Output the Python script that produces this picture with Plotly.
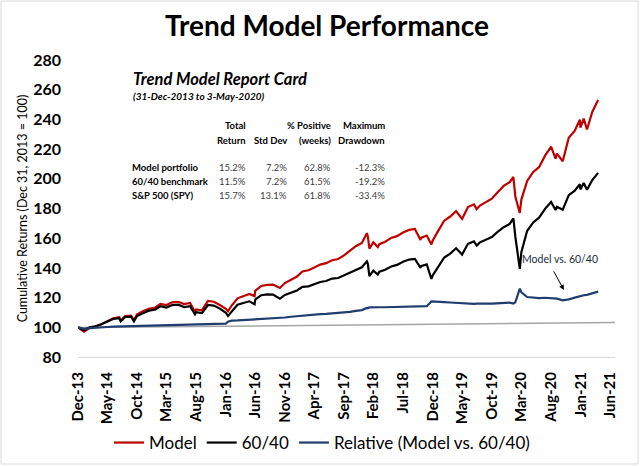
import plotly.graph_objects as go

# weekly-ish readings taken off the chart (index Dec 31, 2013 = 100)
dates = [
    "2013-12-31", "2014-01-31", "2014-02-28", "2014-03-31", "2014-04-30", "2014-05-31",
    "2014-06-30", "2014-07-31", "2014-08-08", "2014-08-31", "2014-09-30", "2014-10-15",
    "2014-10-31", "2014-11-30", "2014-12-31", "2015-01-31", "2015-02-28", "2015-03-31",
    "2015-04-30", "2015-05-31", "2015-06-30", "2015-07-31", "2015-08-25", "2015-08-31",
    "2015-09-30", "2015-10-31", "2015-11-30", "2015-12-31", "2016-01-31", "2016-02-11",
    "2016-02-29", "2016-03-31", "2016-04-30", "2016-05-31", "2016-06-27", "2016-06-30",
    "2016-07-31", "2016-08-31", "2016-09-30", "2016-10-31", "2016-11-04", "2016-11-30",
    "2016-12-31", "2017-01-31", "2017-02-28", "2017-03-31", "2017-04-30", "2017-05-31",
    "2017-06-30", "2017-07-31", "2017-08-31", "2017-09-30", "2017-10-31", "2017-11-30",
    "2017-12-31", "2018-01-26", "2018-01-31", "2018-02-08", "2018-02-28", "2018-03-23",
    "2018-03-31", "2018-04-30", "2018-05-31", "2018-06-30", "2018-07-31", "2018-08-31",
    "2018-09-30", "2018-10-29", "2018-10-31", "2018-11-30", "2018-12-24", "2018-12-31",
    "2019-01-31", "2019-02-28", "2019-03-31", "2019-04-30", "2019-05-31", "2019-06-30",
    "2019-07-31", "2019-08-14", "2019-08-31", "2019-09-30", "2019-10-31", "2019-11-30",
    "2019-12-31", "2020-01-31", "2020-02-19", "2020-02-29", "2020-03-23", "2020-03-31",
    "2020-04-30", "2020-05-31", "2020-06-30", "2020-07-31", "2020-08-31", "2020-09-23",
    "2020-09-30", "2020-10-30", "2020-11-30", "2020-12-31", "2021-01-26", "2021-01-29",
    "2021-02-15", "2021-03-04", "2021-03-31", "2021-04-30",
]

model = [
    100.0, 97.0, 99.5, 100.5, 102.0, 104.0,
    106.0, 106.8, 104.5, 107.5, 107.8, 104.8,
    108.8, 110.8, 112.5, 113.2, 115.8, 115.0,
    116.8, 117.2, 115.6, 116.4, 110.3, 112.0,
    111.5, 117.8, 117.2, 115.0, 112.5, 110.8,
    114.5, 119.5, 121.0, 122.5, 121.0, 124.5,
    127.8, 128.6, 128.8, 127.0, 126.5, 129.8,
    132.0, 134.2, 137.6, 138.4, 140.2, 142.2,
    143.2, 145.2, 146.0, 148.4, 151.6, 154.6,
    156.8, 163.4, 161.0, 153.0, 157.2, 154.0,
    156.0, 157.6, 160.2, 161.4, 163.8, 165.6,
    166.2, 158.8, 160.2, 161.8, 155.8, 158.4,
    165.6, 171.8, 174.6, 178.2, 173.0, 181.0,
    182.8, 179.6, 182.0, 184.0, 186.6, 191.0,
    195.2, 197.8, 201.2, 188.0, 177.0, 186.0,
    198.6, 204.6, 207.8, 215.6, 221.6, 213.6,
    217.0, 211.8, 227.6, 232.4, 239.8, 234.4,
    240.5, 233.2, 245.0, 253.0,
]

bench_60_40 = [
    100.0, 98.0, 100.0, 100.6, 102.0, 103.8,
    105.6, 106.2, 104.0, 107.0, 107.2, 104.0,
    107.6, 109.5, 111.2, 111.8, 114.2, 113.3,
    115.0, 115.2, 113.6, 114.2, 108.8, 110.2,
    109.6, 115.0, 114.6, 112.6, 109.8, 107.6,
    110.5, 115.2, 116.4, 117.5, 115.5, 118.6,
    121.6, 122.2, 122.0, 120.0, 119.2, 121.8,
    123.2, 124.8, 127.2, 127.6, 129.0, 130.5,
    131.2, 132.8, 133.2, 135.0, 137.2, 139.0,
    140.4, 144.4, 142.6, 134.4, 138.2, 135.5,
    137.4, 138.8, 141.0, 142.0, 144.2, 145.6,
    146.0, 140.0, 141.2, 142.4, 132.6, 135.0,
    141.4, 147.0, 149.6, 153.2, 149.0, 156.2,
    157.8, 155.0, 157.2, 158.8, 160.8, 164.2,
    167.4, 169.6, 173.4, 161.0, 139.4, 150.5,
    165.0, 170.6, 173.8, 179.8, 184.4, 179.0,
    181.2, 179.2, 189.0, 192.0, 196.4, 192.8,
    197.2, 192.6, 199.2, 204.0,
]

relative = [
    100.0, 99.0, 99.5, 99.9, 100.0, 100.2,
    100.4, 100.5, 100.5, 100.5, 100.6, 100.8,
    101.1, 101.2, 101.2, 101.3, 101.4, 101.5,
    101.6, 101.7, 101.8, 101.9, 101.6, 101.6,
    101.7, 102.3, 102.3, 102.2, 102.5, 103.8,
    104.5, 104.6, 104.8, 105.0, 105.2, 105.3,
    105.5, 105.7, 105.9, 106.1, 106.2, 106.6,
    107.1, 107.5, 108.1, 108.4, 108.6, 108.9,
    109.1, 109.3, 109.5, 109.8, 110.4, 111.1,
    111.6, 113.0, 112.8, 113.4, 113.6, 113.6,
    113.5, 113.5, 113.6, 113.6, 113.6, 113.7,
    113.8, 113.9, 114.0, 114.2, 117.4, 117.3,
    117.1, 116.9, 116.7, 116.4, 116.1, 115.9,
    115.8, 115.9, 115.8, 115.9, 116.0, 116.3,
    116.6, 116.6, 116.0, 116.8, 126.0, 123.6,
    120.4, 119.9, 119.6, 119.9, 119.8, 119.3,
    119.3, 118.2, 118.8, 120.0, 121.0, 121.2,
    121.6, 121.8, 123.0, 124.0,
]

# thin grey reference line under the series
ref_dates = ["2013-12-31", "2021-07-26"]
ref_values = [99.8, 103.3]

tick_dates = [
    "2013-12-31", "2014-05-31", "2014-10-31", "2015-03-31", "2015-08-31", "2016-01-31",
    "2016-06-30", "2016-11-30", "2017-04-30", "2017-09-30", "2018-02-28", "2018-07-31",
    "2018-12-31", "2019-05-31", "2019-10-31", "2020-03-31", "2020-08-31", "2021-01-31",
    "2021-06-30",
]
tick_labels = [
    "Dec-13", "May-14", "Oct-14", "Mar-15", "Aug-15", "Jan-16", "Jun-16", "Nov-16",
    "Apr-17", "Sep-17", "Feb-18", "Jul-18", "Dec-18", "May-19", "Oct-19", "Mar-20",
    "Aug-20", "Jan-21", "Jun-21",
]

# report card table
card_title = "Trend Model Report Card"
card_period = "(31-Dec-2013 to 3-May-2020)"
card_head_top = ["Total", "", "% Positive", "Maximum"]
card_head_bottom = ["Return", "Std Dev", "(weeks)", "Drawdown"]
card_rows = ["Model portfolio", "60/40 benchmark", "S&P 500 (SPY)"]
total_return = ["15.2%", "11.5%", "15.7%"]
std_dev = ["7.2%", "7.2%", "13.1%"]
pct_positive = ["62.8%", "61.5%", "61.8%"]
max_drawdown = ["-12.3%", "-19.2%", "-33.4%"]

FONT = "Lato"
W, H = 640, 466
L, R, T, B = 78, 25, 60, 109


def px(x):
    # pixel -> paper x
    return (x - L) / (W - L - R)


def py(y):
    # pixel -> paper y
    return (H - B - y) / (H - T - B)


fig = go.Figure()
fig.add_trace(go.Scatter(x=ref_dates, y=ref_values, mode="lines",
                         line=dict(color="#a6a6a6", width=1.5),
                         showlegend=False, hoverinfo="skip"))
fig.add_trace(go.Scatter(x=dates, y=model, mode="lines", name="Model",
                         line=dict(color="#c00000", width=2.2)))
fig.add_trace(go.Scatter(x=dates, y=bench_60_40, mode="lines", name="60/40",
                         line=dict(color="#000000", width=2.2)))
fig.add_trace(go.Scatter(x=dates, y=relative, mode="lines",
                         name="Relative (Model vs. 60/40)",
                         line=dict(color="#1f3d6e", width=2.2)))

ann = []
ann.append(dict(text="<b><i>" + card_title + "</i></b>", x=px(131), y=py(79),
                xanchor="left", yanchor="middle", font=dict(size=16.5, color="#000")))
ann.append(dict(text="<b><i>" + card_period + "</i></b>", x=px(131), y=py(96),
                xanchor="left", yanchor="middle", font=dict(size=10, color="#000")))
col_right = [248, 289, 333, 387]
for i, cx in enumerate(col_right):
    for txt, yy in ((card_head_top[i], 125), (card_head_bottom[i], 140)):
        if txt:
            ann.append(dict(text="<b>" + txt + "</b>", x=px(cx), y=py(yy),
                            xanchor="right", yanchor="middle",
                            font=dict(size=9.5, color="#000")))
row_y = [167, 181, 195]
cols = [total_return, std_dev, pct_positive, max_drawdown]
for j, label in enumerate(card_rows):
    ann.append(dict(text="<b>" + label + "</b>", x=px(130), y=py(row_y[j]),
                    xanchor="left", yanchor="middle", font=dict(size=9.5, color="#000")))
    for i, col in enumerate(cols):
        ann.append(dict(text=col[j], x=px(col_right[i]), y=py(row_y[j]),
                        xanchor="right", yanchor="middle",
                        font=dict(size=9.5, color="#404040")))
for a in ann:
    a.update(xref="paper", yref="paper", showarrow=False)

# callout on the relative line
ann.append(dict(text="Model vs. 60/40", x="2020-10-15", y=146, xref="x", yref="y",
                showarrow=False, font=dict(size=10.5, color="#1a2a40")))
ann.append(dict(text="", x="2020-11-05", y=125.2, xref="x", yref="y",
                showarrow=True, ax=-11, ay=-20, arrowhead=2, arrowsize=1,
                arrowwidth=1, arrowcolor="#000"))

fig.update_layout(
    width=W, height=H,
    margin=dict(l=L, r=R, t=T, b=B, autoexpand=False),
    paper_bgcolor="white", plot_bgcolor="white",
    font=dict(family=FONT, color="#000"),
    title=dict(text="<b>Trend Model Performance</b>", x=327 / W, xref="container",
               xanchor="center", y=1 - 26 / H, yref="container", yanchor="middle",
               font=dict(size=28, family=FONT, color="#000")),
    showlegend=True,
    legend=dict(orientation="h", x=px(322), xanchor="center", y=py(443), yanchor="middle",
                font=dict(size=17, family=FONT), itemwidth=30, bgcolor="rgba(0,0,0,0)"),
    annotations=ann,
    shapes=[dict(type="rect", xref="paper", yref="paper",
                 x0=px(1), x1=px(638), y0=py(464), y1=py(1),
                 line=dict(color="#d9d9d9", width=1))],
)
fig.update_xaxes(
    type="date", range=["2013-12-31", "2021-07-26"], automargin=False,
    tickmode="array", tickvals=tick_dates, ticktext=tick_labels, tickangle=-90,
    tickfont=dict(size=15, family=FONT, weight="bold"),
    showgrid=False, zeroline=False, showline=True, linecolor="#d9d9d9", linewidth=1,
    ticks="", ticklabelstandoff=8,
)
fig.update_yaxes(
    range=[80, 280], tick0=80, dtick=20, automargin=False,
    tickfont=dict(size=16, family=FONT, weight="bold"),
    showgrid=False, zeroline=False, showline=False, ticks="", ticklabelstandoff=16,
    title=dict(text="Cumulative Returns (Dec 31, 2013 = 100)", standoff=2,
               font=dict(size=12.5, family=FONT)),
)

# the default page has an 8px body margin; drop it so the figure sits at 0,0
fig.write_html("out.html", config={"displayModeBar": False},
               post_script="document.body.style.margin='0';")
